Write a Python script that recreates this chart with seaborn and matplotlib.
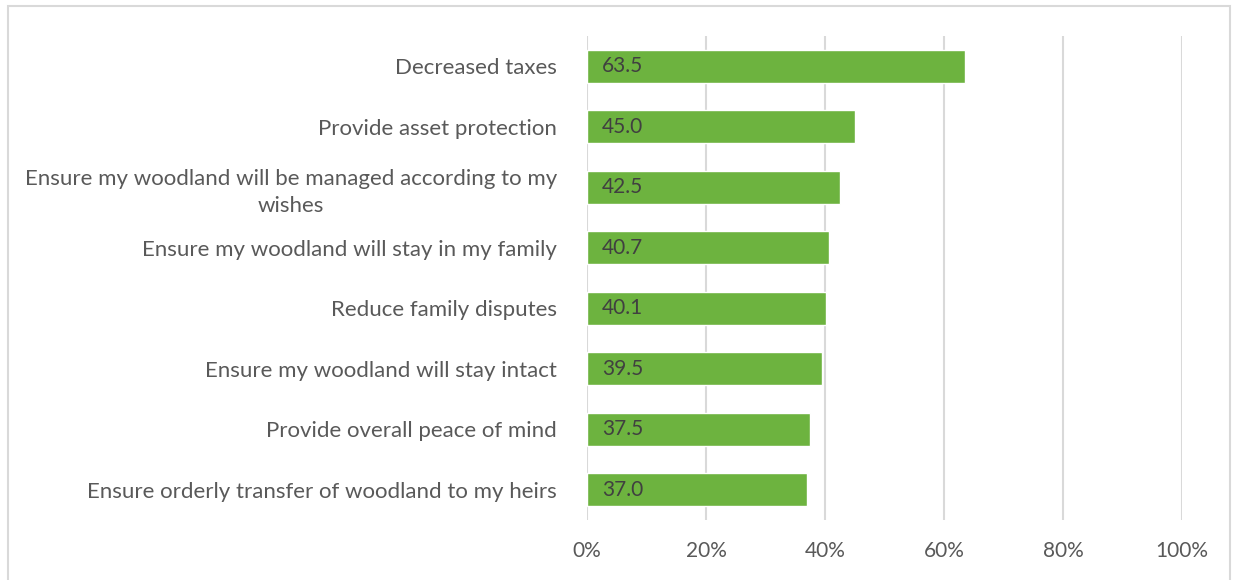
import matplotlib
matplotlib.use("Agg")
import matplotlib.pyplot as plt
from matplotlib.patches import Rectangle
from matplotlib.ticker import FuncFormatter
import seaborn as sns
import pandas as pd

# Reasons for estate planning, share of respondents (%)
reasons = [
    "Decreased taxes",
    "Provide asset protection",
    "Ensure my woodland will be managed according to my\nwishes",
    "Ensure my woodland will stay in my family",
    "Reduce family disputes",
    "Ensure my woodland will stay intact",
    "Provide overall peace of mind",
    "Ensure orderly transfer of woodland to my heirs",
]
percent = [63.5, 45.0, 42.5, 40.7, 40.1, 39.5, 37.5, 37.0]
x_ticks = [0, 20, 40, 60, 80, 100]

df = pd.DataFrame({"reason": reasons, "percent": percent})

sns.set_theme(style="white")
plt.rcParams["font.family"] = ["Lato", "DejaVu Sans"]

W, H = 1238, 580
fig = plt.figure(figsize=(W / 100, H / 100), dpi=100)
ax = fig.add_axes([587 / W, 1 - 520 / H, (1182 - 587) / W, (520 - 36) / H])

sns.barplot(data=df, x="percent", y="reason", orient="h", color="#6DB33F",
            saturation=1, width=0.55, ax=ax, zorder=3)

ax.set_xlim(0, 100)
ax.set_xticks(x_ticks)
ax.xaxis.set_major_formatter(FuncFormatter(lambda v, _: f"{v:.0f}%"))
ax.grid(axis="x", color="#D9D9D9", linewidth=1.5, zorder=0)
ax.grid(axis="y", visible=False)
for s in ax.spines.values():
    s.set_visible(False)
ax.set_xlabel("")
ax.set_ylabel("")
ax.tick_params(axis="both", length=0, colors="#595959")
ax.tick_params(axis="y", pad=21.5, labelsize=16)
ax.tick_params(axis="x", pad=15, labelsize=15)
for lbl in ax.get_yticklabels():
    lbl.set_multialignment("center")
    lbl.set_linespacing(1.45)

# value labels inside each bar, near its base
for i, v in enumerate(percent):
    ax.annotate(f"{v:.1f}", xy=(0, i), xytext=(11, 0), textcoords="offset points",
                ha="left", va="center", fontsize=15, color="#404040", zorder=4)

# light frame around the whole chart
fig.patches.append(Rectangle((8 / W, -0.01), (1230 - 8) / W, 1 - 6 / H + 0.01,
                             transform=fig.transFigure, fill=False,
                             edgecolor="#D9D9D9", linewidth=1.5))

fig.savefig("out.png", dpi=100, facecolor="white")
